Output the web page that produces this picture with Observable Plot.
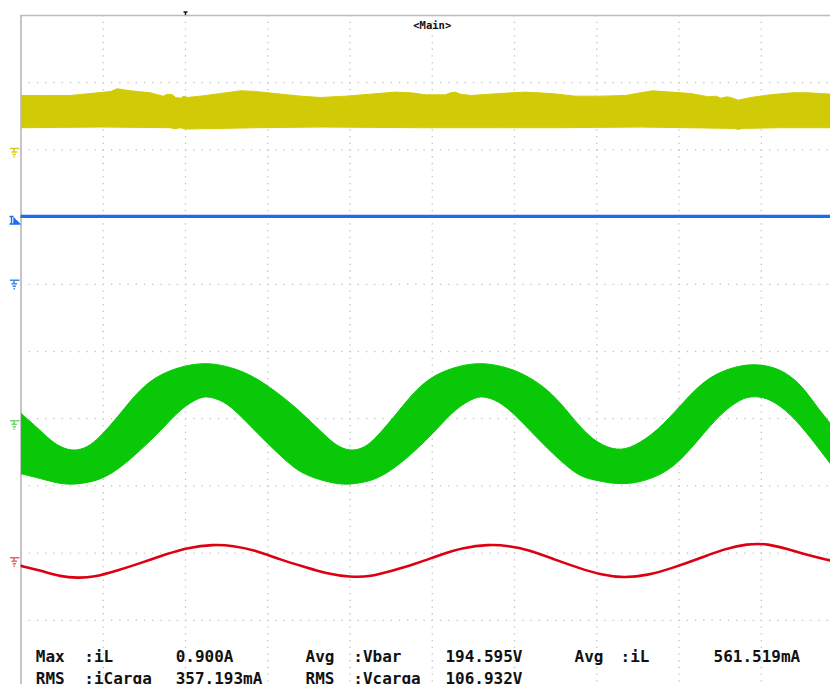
<!DOCTYPE html>
<html>
<head>
<meta charset="utf-8">
<script src="https://cdn.jsdelivr.net/npm/d3@7"></script>
<script src="https://cdn.jsdelivr.net/npm/@observablehq/plot@0.6"></script>
<style>
  html, body { margin: 0; padding: 0; background: #fff; }
  #chart svg { display: block; }
</style>
</head>
<body>
<div id="chart"></div>
<script>
// Time in screen divisions (left edge = 0), level in divisions (screen centre = 0, up positive)

// Yellow trace (Vbar): upper and lower envelope
const yellowTopT = [0,0.30,0.60,0.85,1.09,1.17,1.33,1.57,1.73,1.78,1.84,1.88,1.94,1.98,2.02,2.18,2.43,2.67,2.85,3.16,3.40,3.64,3.95,4.25,4.55,4.74,4.92,5.16,5.22,5.28,5.34,5.47,5.83,6.13,6.44,6.74,7.05,7.35,7.53,7.68,7.90,8.14,8.36,8.45,8.51,8.58,8.63,8.72,8.87,9.11,9.38,9.57,9.84];
const yellowTopV = [3.81,3.81,3.81,3.84,3.87,3.91,3.88,3.85,3.80,3.83,3.82,3.78,3.77,3.80,3.78,3.80,3.84,3.88,3.87,3.83,3.80,3.78,3.80,3.83,3.86,3.85,3.82,3.82,3.85,3.86,3.83,3.81,3.84,3.86,3.84,3.80,3.80,3.81,3.85,3.88,3.86,3.84,3.79,3.80,3.77,3.79,3.78,3.74,3.78,3.82,3.85,3.85,3.83];
const yellowBotT = [0,1.0,1.82,1.87,1.94,2.0,2.85,3.64,4.86,5.83,6.53,7.53,8.68,8.72,8.77,9.23,9.84];
const yellowBotV = [3.33,3.34,3.33,3.315,3.33,3.31,3.33,3.34,3.33,3.33,3.33,3.34,3.32,3.305,3.32,3.33,3.33];

// Blue trace
const blueT = [0,2,4,6,8,9.84];
const blueV = [2.01,2.01,2.01,2.01,2.01,2.01];

// Green trace (iL): upper and lower envelope of the rippled sine
const greenTopT = [0,0.24,0.40,0.57,0.72,0.88,1.05,1.21,1.45,1.70,1.98,2.27,2.58,2.83,3.07,3.28,3.46,3.64,3.80,3.95,4.10,4.25,4.41,4.57,4.81,5.05,5.33,5.61,5.93,6.17,6.41,6.62,6.80,7.01,7.25,7.45,7.74,8.02,8.30,8.59,8.91,9.23,9.48,9.68,9.84];
const greenTopV = [-0.92,-1.18,-1.37,-1.47,-1.47,-1.37,-1.15,-0.92,-0.55,-0.33,-0.21,-0.16,-0.24,-0.37,-0.57,-0.77,-0.97,-1.18,-1.37,-1.47,-1.47,-1.37,-1.15,-0.92,-0.55,-0.33,-0.21,-0.16,-0.24,-0.37,-0.57,-0.85,-1.13,-1.37,-1.48,-1.42,-1.18,-0.80,-0.43,-0.25,-0.17,-0.25,-0.48,-0.83,-1.07];
const greenBotT = [0,0.24,0.44,0.60,0.76,0.97,1.21,1.45,1.70,1.94,2.18,2.30,2.51,2.75,3.00,3.24,3.40,3.58,3.79,3.95,4.10,4.31,4.55,4.80,5.04,5.28,5.53,5.65,5.85,6.10,6.34,6.58,6.80,7.01,7.25,7.53,7.81,8.02,8.26,8.50,8.75,8.91,9.11,9.36,9.60,9.84];
const greenBotV = [-1.82,-1.89,-1.96,-1.98,-1.96,-1.91,-1.73,-1.47,-1.18,-0.85,-0.67,-0.67,-0.76,-1.06,-1.37,-1.65,-1.80,-1.89,-1.96,-1.98,-1.96,-1.91,-1.73,-1.47,-1.18,-0.85,-0.67,-0.67,-0.76,-1.06,-1.37,-1.65,-1.87,-1.92,-1.98,-1.95,-1.82,-1.62,-1.28,-0.93,-0.70,-0.66,-0.70,-0.93,-1.28,-1.67];

// Red trace
const redT = [0,0.24,0.48,0.69,0.88,1.17,1.45,1.78,2.02,2.34,2.58,2.83,3.16,3.46,3.70,4.01,4.25,4.52,4.80,5.13,5.37,5.68,5.93,6.17,6.50,6.80,7.05,7.33,7.62,7.90,8.23,8.54,8.83,9.08,9.32,9.60,9.84];
const redV = [-3.19,-3.26,-3.35,-3.37,-3.36,-3.26,-3.15,-3.01,-2.92,-2.87,-2.89,-2.95,-3.10,-3.21,-3.30,-3.36,-3.35,-3.26,-3.16,-3.01,-2.92,-2.87,-2.89,-2.95,-3.10,-3.23,-3.32,-3.37,-3.33,-3.23,-3.09,-2.94,-2.86,-2.86,-2.94,-3.04,-3.11];

// Channel ground (offset) markers and trigger
const groundLevels = [3.02, 1.06, -1.03, -3.07];
const groundColors = ["#d6cc22", "#3f86ee", "#74d474", "#e06a6a"];
const triggerLevel = [2.01];
const triggerTime = [2.0];

// Measurement readouts
const readRow1 = ["Max", ":iL", "0.900A", "Avg", ":Vbar", "194.595V", "Avg", ":iL", "561.519mA"];
const readRow2 = ["RMS", ":iCarga", "357.193mA", "RMS", ":Vcarga", "106.932V"];
const title = "<Main>";

// ---- build tables ----
const pts = (T, V) => T.map((t, i) => ({t, v: V[i]}));
// repeat the end points so the B-spline passes through the band's corners
const pin = a => [a[0], a[0], ...a, a[a.length - 1], a[a.length - 1]];
const band = (tT, tV, bT, bV) => [...pin(pts(tT, tV)), ...pin(pts(bT, bV)).reverse()];
const yellowBand = band(yellowTopT, yellowTopV, yellowBotT, yellowBotV);
const greenBand = band(greenTopT, greenTopV, greenBotT, greenBotV);
const blueLine = pts(blueT, blueV);
const redLine = pts(redT, redV);

const colX = [0.18, 0.77, 1.88, 3.46, 4.04, 5.16, 6.73, 7.29, 8.42];
const readouts = [
  ...readRow1.map((s, i) => ({s, t: colX[i], v: -4.62})),
  ...readRow2.map((s, i) => ({s, t: colX[i], v: -4.945}))
];

const groundSym = {draw(c) {
  c.moveTo(-4.5, 0); c.lineTo(5, 0);
  c.moveTo(-0.5, 0); c.lineTo(-0.5, 3.5);
  c.moveTo(-3, 3.5); c.lineTo(2.5, 3.5);
  c.moveTo(-2, 6); c.lineTo(1.5, 6);
  c.moveTo(-1, 8.5); c.lineTo(0.5, 8.5);
}};
const levelSym = {draw(c) {
  c.moveTo(-5, 0); c.lineTo(-1, 0);
  c.moveTo(-3, 0); c.lineTo(-3, 7.3);
  c.moveTo(-0.5, 2); c.lineTo(5, 7.3); c.lineTo(-0.5, 7.3); c.closePath();
  c.moveTo(-5, 7.6); c.lineTo(5, 7.6);
}};
const trigSym = {draw(c) {
  c.moveTo(-2, -3.5); c.lineTo(2, -3.5);
  c.moveTo(0, -3.5); c.lineTo(0, -0.5);
}};

const YEL = "#d1cb07", BLU = "#1c6cf0", GRN = "#08c808", RED = "#dc0010";

const svg = Plot.plot({
  width: 830, height: 684,
  marginLeft: 20.5, marginRight: 0, marginTop: 15, marginBottom: 0,
  x: {domain: [0, 9.842], axis: null},
  y: {domain: [-4.955, 5], axis: null},
  style: {background: "#fff", overflow: "visible"},
  marks: [
    Plot.ruleX(d3.range(1, 10), {stroke: "#c2c2c2", strokeWidth: 1.3, strokeDasharray: "1.3,5.42"}),
    Plot.ruleY(d3.range(-4, 5), {stroke: "#c2c2c2", strokeWidth: 1.3, strokeDasharray: "1.3,6.925"}),
    Plot.ruleX([0], {stroke: "#bcbcbc", strokeWidth: 1.7}),
    Plot.ruleY([5], {stroke: "#bcbcbc", strokeWidth: 1.6}),
    Plot.line(yellowBand, {x: "t", y: "v", fill: YEL, stroke: YEL, strokeWidth: 1, curve: "linear", clip: true}),
    Plot.line(blueLine, {x: "t", y: "v", stroke: BLU, strokeWidth: 3.2, clip: true}),
    Plot.line(greenBand, {x: "t", y: "v", fill: GRN, stroke: GRN, strokeWidth: 1, curve: "basis", clip: true}),
    Plot.line(redLine, {x: "t", y: "v", stroke: RED, strokeWidth: 2.6, curve: "basis", clip: true}),
    Plot.dot(groundLevels, {y: d => d, frameAnchor: "left", dx: -6.5, symbol: groundSym, fill: "none", stroke: (d, i) => groundColors[i], strokeWidth: 1.6}),
    Plot.dot(triggerLevel, {y: d => d, frameAnchor: "left", dx: -6.5, symbol: levelSym, fill: BLU, stroke: BLU, strokeWidth: 1.4}),
    Plot.dot(triggerTime, {x: d => d, frameAnchor: "top", symbol: trigSym, fill: "none", stroke: "#111", strokeWidth: 1.4}),
    Plot.text([title], {x: 5, frameAnchor: "top", dy: 6, text: d => d, fontFamily: "DejaVu Sans Mono", fontWeight: "bold", fontSize: 10.5, fill: "#111"}),
    Plot.text(readouts, {x: "t", y: "v", text: "s", textAnchor: "start", lineAnchor: "bottom", fontFamily: "DejaVu Sans Mono", fontWeight: "bold", fontSize: 16, fill: "#111", ariaLabel: "readout"})
  ]
});
svg.querySelectorAll('g[aria-label="readout"] text').forEach(el => {
  el.setAttribute("textLength", el.textContent.length * 8.0 - 1);
  el.setAttribute("lengthAdjust", "spacingAndGlyphs");
});
document.getElementById("chart").append(svg);
</script>
</body>
</html>
